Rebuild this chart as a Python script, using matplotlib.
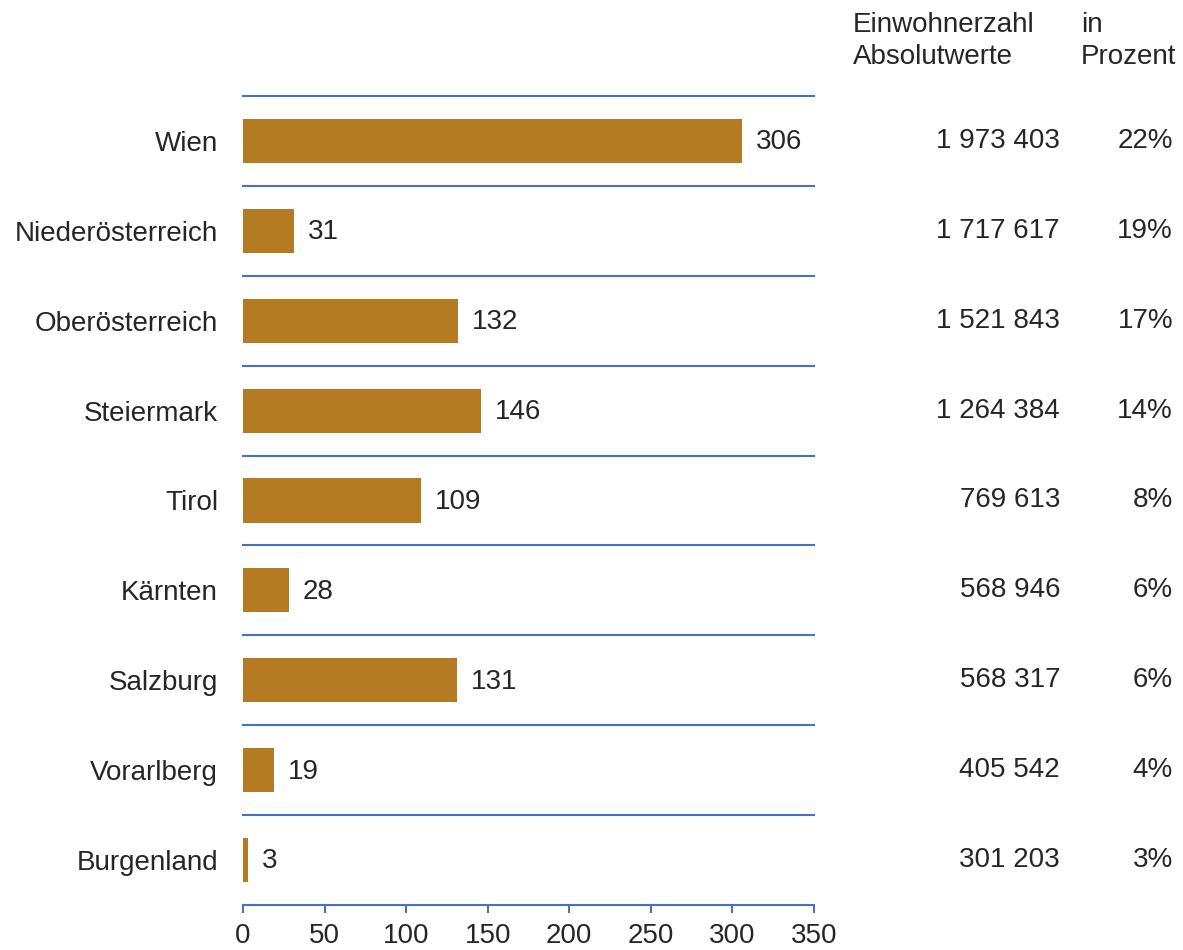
import matplotlib
matplotlib.use("Agg")
import matplotlib.pyplot as plt
from matplotlib.transforms import blended_transform_factory

plt.rcParams['font.family'] = ['Liberation Sans', 'DejaVu Sans']

categories = ["Wien", "Niederösterreich", "Oberösterreich", "Steiermark", "Tirol",
              "Kärnten", "Salzburg", "Vorarlberg", "Burgenland"]
values = [306, 31, 132, 146, 109, 28, 131, 19, 3]
population = [1973403, 1717617, 1521843, 1264384, 769613, 568946, 568317, 405542, 301203]
percent = [22, 19, 17, 14, 8, 6, 6, 4, 3]
xticks = [0, 50, 100, 150, 200, 250, 300, 350]

bar_color = "#B47B22"
line_color = "#4472C4"
text_color = "#262626"
fs = 20

fig = plt.figure(figsize=(11.83, 9.5), dpi=100)
ax = fig.add_axes([243/1183, 1-905/950, (814-243)/1183, (905-96)/950])

y = list(range(len(categories)))
ax.barh(y, values, height=0.49, color=bar_color, zorder=2)
ax.set_ylim(len(categories)-0.5, -0.5)
ax.set_xlim(0, 350)

for i in range(len(categories)):
    ax.axhline(i-0.5, color=line_color, lw=1.5, zorder=1, clip_on=False)

for s in ["top", "right", "left"]:
    ax.spines[s].set_visible(False)
ax.spines["bottom"].set_color(line_color)
ax.spines["bottom"].set_linewidth(1.5)

ax.set_xticks(xticks)
ax.set_xticklabels([str(t) for t in xticks], fontsize=fs, color=text_color)
ax.tick_params(axis='x', direction='out', length=6, width=1.5, color=line_color, pad=7)
ax.set_yticks(y)
ax.set_yticklabels(categories, fontsize=fs, color=text_color)
ax.tick_params(axis='y', length=0, pad=18)

for i, v in enumerate(values):
    ax.annotate(str(v), (v, i), xytext=(10, -1), textcoords='offset points',
                va='center', ha='left', fontsize=fs, color=text_color)

tr = blended_transform_factory(fig.transFigure, ax.transData)
for i, (p, pc) in enumerate(zip(population, percent)):
    ax.text(1060/1183, i, f"{p:,}".replace(",", " "), transform=tr, ha='right', va='center',
            fontsize=fs, color=text_color, clip_on=False)
    ax.text(1173/1183, i, f"{pc}%", transform=tr, ha='right', va='center',
            fontsize=fs, color=text_color, clip_on=False)

fig.text(853/1183, 1-41/950, "Einwohnerzahl\nAbsolutwerte", ha='left', va='center',
         fontsize=fs, color=text_color, linespacing=1.3)
fig.text(1081/1183, 1-41/950, "in\nProzent", ha='left', va='center',
         fontsize=fs, color=text_color, linespacing=1.3)

fig.savefig("out.png", dpi=100)
